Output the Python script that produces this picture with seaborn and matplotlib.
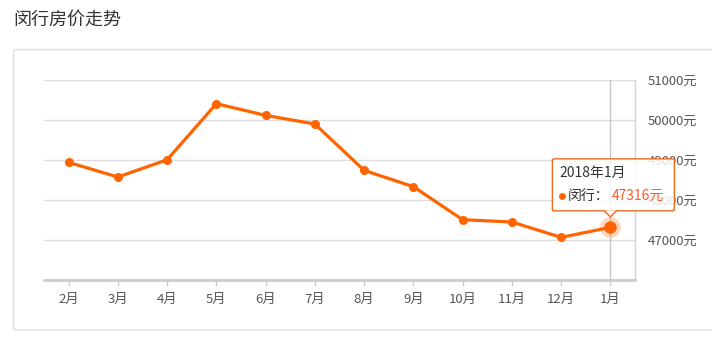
import matplotlib
matplotlib.use("Agg")
import matplotlib.pyplot as plt
import seaborn as sns
import pandas as pd
from matplotlib.patches import FancyBboxPatch, Polygon

months = ["2月", "3月", "4月", "5月", "6月", "7月", "8月", "9月", "10月", "11月", "12月", "1月"]
prices = [48940, 48575, 49005, 50408, 50115, 49900, 48740, 48333, 47508, 47450, 47065, 47316]
yticks = [47000, 48000, 49000, 50000, 51000]
title = "闵行房价走势"
series_name = "闵行"
tooltip_title = "2018年1月"

sns.set_theme(style="white")
plt.rcParams["font.family"] = ["Noto Sans CJK SC", "DejaVu Sans"]

W, H = 712, 342
fig = plt.figure(figsize=(W / 100, H / 100), dpi=100)
fig.patch.set_facecolor("white")

def fx(px):
    return px / W

def fy(py):
    return 1 - py / H

# panel
panel = FancyBboxPatch((fx(13.5), fy(330)), fx(720 - 13.5), fy(49.5) - fy(330),
                       boxstyle="round,pad=0,rounding_size=0.006",
                       transform=fig.transFigure, facecolor="white",
                       edgecolor="#dcdcdc", linewidth=1.0, zorder=-5)
fig.patches.append(panel)

fig.text(fx(13), fy(20), title, fontsize=13, color="#333333", va="center", ha="left")

ax = fig.add_axes([fx(44), fy(280), fx(635 - 44), fy(80) - fy(280)])
ax.set_facecolor("none")
ax.set_zorder(1)

df = pd.DataFrame({"month": months, "price": prices})
color = "#ff6400"
sns.lineplot(data=df, x="month", y="price", sort=False, ax=ax, color=color,
             linewidth=2.3, marker="o", markersize=6.5, markeredgewidth=0,
             zorder=4)

ax.set_xlim(-0.5, len(months) - 0.5)
ax.set_ylim(46000, 51000)
ax.set_xlabel("")
ax.set_ylabel("")

ax.yaxis.tick_right()
ax.set_yticks(yticks)
ax.set_yticklabels([f"{v}元" for v in yticks])
ax.tick_params(axis="y", length=0, pad=9, labelsize=9.5, labelcolor="#555555")
ax.set_xticks(range(len(months)))
ax.set_xticklabels(months)
ax.tick_params(axis="x", length=4, width=1, color="#cccccc", pad=5,
               labelsize=9.5, labelcolor="#555555", bottom=True)

ax.yaxis.grid(True, color="#dddddd", linewidth=1)
ax.xaxis.grid(False)
for s in ["left", "top"]:
    ax.spines[s].set_visible(False)
ax.spines["right"].set_color("#d4d4d4")
ax.spines["right"].set_linewidth(1)
ax.spines["bottom"].set_color("#cccccc")
ax.spines["bottom"].set_linewidth(2)

# axis pointer + highlighted point
last_i = len(months) - 1
last_v = prices[-1]
ax.axvline(last_i, color="#c8c8c8", linewidth=1, zorder=2)
ax.plot([last_i], [last_v], marker="o", markersize=15, color=color, alpha=0.25,
        markeredgewidth=0, zorder=5)
ax.plot([last_i], [last_v], marker="o", markersize=9, color=color,
        markeredgewidth=0, zorder=6)

# tooltip anchored on the last data point
fig.canvas.draw()
px, py = ax.transData.transform((last_i, last_v))
py = H - py  # to top-based pixels
box_l, box_r = px - 58, px + 64
box_b, box_t = py - 16.5, py - 68.5
tip_h = 6
Z = 20
tip = FancyBboxPatch((fx(box_l), fy(box_b)), fx(box_r - box_l), fy(box_t) - fy(box_b),
                     boxstyle="round,pad=0,rounding_size=0.003",
                     transform=fig.transFigure, facecolor="white", alpha=0.85,
                     edgecolor="none", zorder=Z)
fig.patches.append(tip)
border = FancyBboxPatch((fx(box_l), fy(box_b)), fx(box_r - box_l), fy(box_t) - fy(box_b),
                        boxstyle="round,pad=0,rounding_size=0.003",
                        transform=fig.transFigure, facecolor="none",
                        edgecolor="#f06a1e", linewidth=1.0, zorder=Z + 1)
fig.patches.append(border)
tri = Polygon([(fx(px - tip_h), fy(box_b - 0.5)), (fx(px + tip_h), fy(box_b - 0.5)),
               (fx(px), fy(box_b + tip_h))], closed=True,
              transform=fig.transFigure, facecolor="white", edgecolor="none", zorder=Z + 2)
fig.patches.append(tri)
fig.add_artist(plt.Line2D([fx(px - tip_h), fx(px), fx(px + tip_h)],
                          [fy(box_b), fy(box_b + tip_h), fy(box_b)],
                          transform=fig.transFigure, color="#f06a1e", linewidth=1.0,
                          zorder=Z + 3))
fig.text(fx(box_l + 7), fy(box_t + 14), tooltip_title, fontsize=10, color="#333333",
         va="center", ha="left", zorder=Z + 4)
fig.add_artist(plt.Line2D([fx(box_l + 10)], [fy(box_t + 37)], marker="o", markersize=5,
                          color=color, markeredgewidth=0, linestyle="none",
                          transform=fig.transFigure, zorder=Z + 4))
fig.text(fx(box_l + 15), fy(box_t + 37), f"{series_name}：", fontsize=10, color="#333333",
         va="center", ha="left", zorder=Z + 4)
fig.text(fx(box_l + 59), fy(box_t + 37), f"{last_v}元", fontsize=10, color="#ff5a2a",
         va="center", ha="left", zorder=Z + 4)

fig.savefig("out.png", dpi=100)
